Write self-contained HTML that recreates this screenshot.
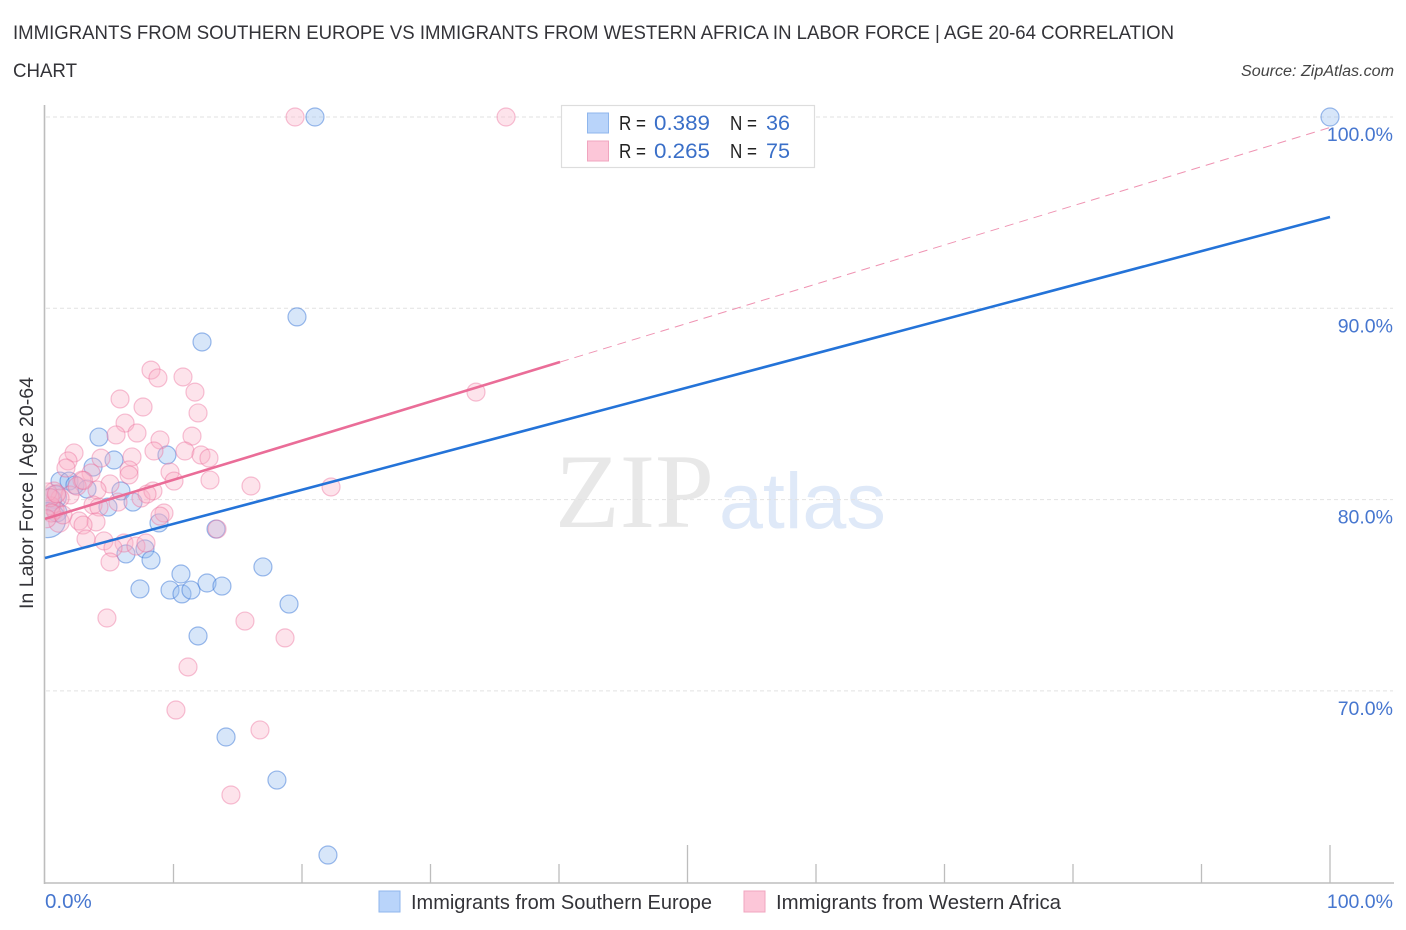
<!DOCTYPE html>
<html lang="en">
<head>
<meta charset="utf-8">
<title>Immigrants from Southern Europe vs Immigrants from Western Africa correlation chart</title>
<style>
html,body{margin:0;padding:0;background:#fff;width:1406px;height:930px;overflow:hidden}
svg{display:block}
text{font-family:"Liberation Sans",sans-serif}
</style>
</head>
<body>
<svg id="chart" width="1406" height="930" viewBox="0 0 1406 930" xmlns="http://www.w3.org/2000/svg">
  <defs><clipPath id="plot-clip"><rect x="45.5" y="95" width="1355" height="788"/></clipPath></defs>
  <text x="13" y="39" font-size="19" fill="#333338" textLength="1161" lengthAdjust="spacingAndGlyphs">IMMIGRANTS FROM SOUTHERN EUROPE VS IMMIGRANTS FROM WESTERN AFRICA IN LABOR FORCE | AGE 20-64 CORRELATION</text>
  <text x="13" y="77" font-size="19" fill="#333338" textLength="64" lengthAdjust="spacingAndGlyphs">CHART</text>
  <text x="1241" y="76" font-size="15.5" font-style="italic" fill="#444" textLength="153" lengthAdjust="spacingAndGlyphs">Source: ZipAtlas.com</text>

  <g>
    <text x="555" y="527" font-size="106" fill="#e8e8e8" style="font-family:'Liberation Serif',serif">ZIP</text>
    <text x="719" y="528" font-size="79" fill="#dfe9f8">atlas</text>
  </g>

  <g id="grid"></g>
  <g id="axes"></g>
  <g id="blue-points" clip-path="url(#plot-clip)"></g>
  <g id="pink-points" clip-path="url(#plot-clip)"></g>
  <g id="trend-lines"></g>
  <g id="tick-labels"></g>

  <text transform="translate(33,609) rotate(-90)" font-size="19" fill="#333338" textLength="232" lengthAdjust="spacingAndGlyphs">In Labor Force | Age 20-64</text>

  <g>
    <rect x="561.5" y="105.5" width="253" height="62" fill="#fff" stroke="#ddd" stroke-width="1.2"/>
    <rect x="587.5" y="113" width="21" height="20" fill="#b9d4fa" stroke="#8fb6ec"/>
    <rect x="587.5" y="141" width="21" height="20" fill="#fcc6d8" stroke="#f0a5bf"/>
    <text x="619" y="130" font-size="20" fill="#222" textLength="27" lengthAdjust="spacingAndGlyphs">R =</text>
    <text x="654" y="130" font-size="21" fill="#3a6fc8" textLength="56" lengthAdjust="spacingAndGlyphs">0.389</text>
    <text x="730" y="130" font-size="20" fill="#222" textLength="27" lengthAdjust="spacingAndGlyphs">N =</text>
    <text x="766" y="130" font-size="21" fill="#3a6fc8" textLength="24" lengthAdjust="spacingAndGlyphs">36</text>
    <text x="619" y="158" font-size="20" fill="#222" textLength="27" lengthAdjust="spacingAndGlyphs">R =</text>
    <text x="654" y="158" font-size="21" fill="#3a6fc8" textLength="56" lengthAdjust="spacingAndGlyphs">0.265</text>
    <text x="730" y="158" font-size="20" fill="#222" textLength="27" lengthAdjust="spacingAndGlyphs">N =</text>
    <text x="766" y="158" font-size="21" fill="#3a6fc8" textLength="24" lengthAdjust="spacingAndGlyphs">75</text>
  </g>

  <g>
    <rect x="379" y="891" width="21" height="21" fill="#b9d4fa" stroke="#8fb6ec"/>
    <text x="411" y="909" font-size="20" fill="#333338" textLength="301" lengthAdjust="spacingAndGlyphs">Immigrants from Southern Europe</text>
    <rect x="744" y="891" width="21" height="21" fill="#fcc6d8" stroke="#f0a5bf"/>
    <text x="776" y="909" font-size="20" fill="#333338" textLength="285" lengthAdjust="spacingAndGlyphs">Immigrants from Western Africa</text>
  </g>
</svg>

<script>
const yTickValues = [100, 90, 80, 70];
const yTickLabels = ['100.0%', '90.0%', '80.0%', '70.0%'];
const xTickValues = [0, 10, 20, 30, 40, 50, 60, 70, 80, 90, 100];
const xEdgeLabels = ['0.0%', '100.0%'];

const blueX = [21.01,100,19.61,12.22,4.20,5.37,3.74,1.17,1.87,2.33,3.27,5.91,6.85,4.90,0.78,0.39,0.93,8.87,0.23,13.31,7.78,6.30,8.25,16.96,10.58,7.39,9.73,10.66,11.36,12.61,13.77,18.99,11.91,14.09,18.05,22.02,9.49];
const blueY = [100,100,89.55,88.24,83.27,82.07,81.70,80.97,80.97,80.76,80.55,80.45,79.87,79.61,80.14,79.98,79.35,78.78,78.93,78.46,77.42,77.16,76.84,76.48,76.11,75.33,75.27,75.07,75.27,75.64,75.48,74.54,72.87,67.59,65.34,61.42,82.33];
const blueWeights = [1,1,1,1,1,1,1,1,1,1,1,1,1,1,1.6,1.6,1.2,1,3.8,1,1,1,1,1,1,1,1,1,1,1,1,1,1,1,1,1,1];

const pinkX = [19.46,35.88,8.25,8.79,10.74,11.67,5.84,7.63,11.91,6.23,7.16,5.53,11.44,8.95,2.26,8.48,10.89,12.14,12.76,4.36,6.77,1.79,1.63,3.58,6.54,6.54,9.73,10.04,12.84,16.03,22.26,33.54,2.88,5.06,0.70,4.05,1.95,7.47,8.40,7.94,5.68,3.74,4.20,1.17,0.78,9.26,8.95,3.97,2.65,2.96,1.09,0.47,3.19,4.59,6.15,7.08,7.86,5.29,5.06,13.39,4.82,15.56,18.68,11.13,10.19,16.73,14.47,0.2,0.4,0.5,0.15,1.4,0.9,2.5,3.0];
const pinkY = [100,100,86.77,86.36,86.41,85.62,85.26,84.84,84.53,84.0,83.48,83.38,83.32,83.12,82.44,82.54,82.54,82.33,82.17,82.17,82.23,82.02,81.65,81.39,81.55,81.29,81.44,80.97,81.02,80.71,80.66,85.62,81.02,80.82,80.45,80.5,80.24,80.08,80.45,80.29,79.87,79.72,79.61,80.08,79.46,79.30,79.14,78.83,78.88,78.67,78.83,79.67,77.94,77.84,77.73,77.57,77.73,77.47,76.74,78.46,73.81,73.65,72.77,71.25,69.0,67.96,64.56,80.4,80.1,79.3,79.0,79.2,80.3,80.7,81.0];
const pinkWeights = [1,1,1,1,1,1,1,1,1,1,1,1,1,1,1,1,1,1,1,1,1,1,1,1,1,1,1,1,1,1,1,1,1,1,1,1,1,1,1,1,1,1,1,1,1,1,1,1,1,1,1.3,1,1,1,1,1,1,1,1,1,1,1,1,1,1,1,1,1,1,1,1,1,1,1,1];

const blueTrendX = [0, 100];
const blueTrendY = [76.95, 94.77];
const pinkTrendSolidX = [0, 40.08];
const pinkTrendSolidY = [78.99, 87.19];
const pinkTrendDashX = [40.08, 100];
const pinkTrendDashY = [87.19, 99.45];

const NS = 'http://www.w3.org/2000/svg';
const xScale = v => 45 + v * 12.85;
const yScale = v => 117 + (100 - v) * 19.13;
const rScale = w => 9 * Math.sqrt(w);
const make = (tag, parent, attrs) => {
  const el = document.createElementNS(NS, tag);
  for (const k in attrs) el.setAttribute(k, attrs[k]);
  parent.appendChild(el);
  return el;
};

const grid = document.getElementById('grid');
yTickValues.forEach(v => {
  const el = make('line', grid, {x1: 46, x2: 1393, y1: yScale(v), y2: yScale(v), stroke: '#e2e2e2', 'stroke-width': 1, 'stroke-dasharray': '4 3'});
  
  
});

const axes = document.getElementById('axes');
const yAxis = make('line', axes, {x1: 44.5, x2: 44.5, y1: 105, y2: 884, stroke: '#bdbdbd', 'stroke-width': 1.6});


const xAxis = make('line', axes, {x1: 44, x2: 1394, y1: 883, y2: 883, stroke: '#bdbdbd', 'stroke-width': 1.6});


xTickValues.forEach(v => {
  if (v === 0) return;
  const major = v === 50 || v === 100;
  const tick = make('line', axes, {x1: xScale(v), x2: xScale(v), y1: major ? 845 : 864, y2: 883, stroke: '#bdbdbd', 'stroke-width': 1.3});
  
  
});

const drawPoints = (groupId, xs, ys, ws, fill, stroke) => {
  const g = document.getElementById(groupId);
  xs.forEach((x, i) => {
    const c = make('circle', g, {cx: xScale(x), cy: yScale(ys[i]), r: rScale(ws[i]), fill: fill, stroke: stroke, 'stroke-width': 1.2});
    
    
  });
};
drawPoints('blue-points', blueX, blueY, blueWeights, 'rgba(150,190,240,0.38)', 'rgba(60,120,215,0.5)');
drawPoints('pink-points', pinkX, pinkY, pinkWeights, 'rgba(250,175,198,0.35)', 'rgba(235,110,155,0.42)');

const lines = document.getElementById('trend-lines');
const dashLine = make('line', lines, {x1: xScale(pinkTrendDashX[0]), y1: yScale(pinkTrendDashY[0]), x2: xScale(pinkTrendDashX[1]), y2: yScale(pinkTrendDashY[1]), stroke: '#ef93b2', 'stroke-width': 1, 'stroke-dasharray': '9 6'});


const blueLine = make('line', lines, {x1: xScale(blueTrendX[0]), y1: yScale(blueTrendY[0]), x2: xScale(blueTrendX[1]), y2: yScale(blueTrendY[1]), stroke: '#2473d8', 'stroke-width': 2.6});


const pinkLine = make('line', lines, {x1: xScale(pinkTrendSolidX[0]), y1: yScale(pinkTrendSolidY[0]), x2: xScale(pinkTrendSolidX[1]), y2: yScale(pinkTrendSolidY[1]), stroke: '#ea6d98', 'stroke-width': 2.6});



const labels = document.getElementById('tick-labels');
yTickValues.forEach((v, i) => {
  const t = make('text', labels, {x: 1393, y: yScale(v) + 24, 'font-size': 19.5, fill: '#4676cf', 'text-anchor': 'end'});
  t.textContent = yTickLabels[i];
  
  
});
const xLabelLeft = make('text', labels, {x: xScale(0), y: 908, 'font-size': 20.5, fill: '#4676cf'});
xLabelLeft.textContent = xEdgeLabels[0];


const xLabelRight = make('text', labels, {x: 1393, y: 908, 'font-size': 19.5, fill: '#4676cf', 'text-anchor': 'end'});
xLabelRight.textContent = xEdgeLabels[1];


</script>
</body>
</html>
